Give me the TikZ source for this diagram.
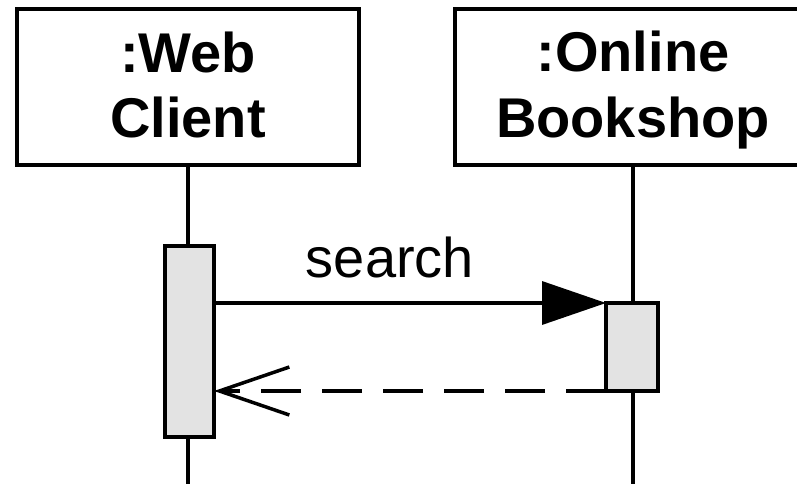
\documentclass[tikz,border=0pt]{standalone}
\usepackage{fontspec}
\setmainfont{Liberation Sans}
\usetikzlibrary{arrows.meta}
\begin{document}
\begin{tikzpicture}[x=1pt,y=-1pt,
  line width=3.5pt,
  lifebox/.style={draw=black, fill=white, inner sep=0pt, outer sep=0pt},
  title/.style={font=\fontsize{56}{66}\selectfont\bfseries, align=center,
    inner sep=0pt, anchor=base},
  activation/.style={draw=black, fill=black!11, inner sep=0pt, outer sep=0pt},
  lifeline/.style={draw=black},
  msg/.style={draw=black, -{Triangle[length=64pt,width=43pt]}},
  reply/.style={draw=black, dash pattern=on 40pt off 21pt,
    -{Straight Barb[length=70pt,width=48pt]}},
  msglabel/.style={font=\fontsize{56}{66}\selectfont, inner sep=0pt, anchor=base}]
  \useasboundingbox (0,0) rectangle (797,484);
  \clip (0,0) rectangle (797,484);

  % lifeline heads
  \node[lifebox, minimum width=342pt, minimum height=156pt] (box1) at (188,87) {};
  \node[lifebox, minimum width=356pt, minimum height=156pt] (box2) at (633,87) {};
  % the base anchor of a two-line title sits on its last line
  \node[title] (name1) at (188,138) {:Web\\Client};
  \node[title] (name2) at (633,137) {:Online\\Bookshop};

  % execution specifications
  \node[activation, minimum width=49pt, minimum height=191pt] (act1) at (189.5,341.5) {};
  \node[activation, minimum width=52pt, minimum height=88pt] (act2) at (632,347) {};

  \coordinate (end1) at (188,484);
  \coordinate (end2) at (633,484);

  % lifelines
  \draw[lifeline] (box1.south -| 188,0) -- (act1.north -| 188,0);
  \draw[lifeline] (act1.south -| 188,0) -- (end1);
  \draw[lifeline] (box2.south -| 633,0) -- (act2.north -| 633,0);
  \draw[lifeline] (act2.south -| 633,0) -- (end2);

  % synchronous call and its reply
  \draw[msg] (act1.east |- act2.north) -- (act2.north west);
  \node[msglabel] (lbl) at (390,277) {search};
  \draw[reply] (act2.south west) -- (act1.east |- act2.south);
\end{tikzpicture}
\end{document}
